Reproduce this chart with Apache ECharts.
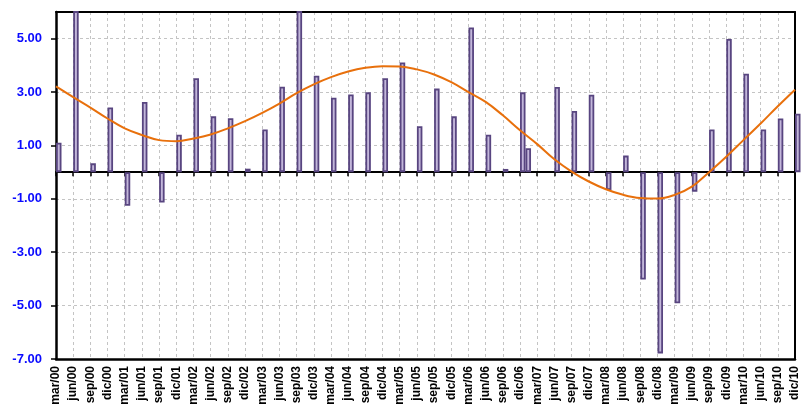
<!DOCTYPE html>
<html>
<head>
<meta charset="utf-8">
<script src="https://cdn.jsdelivr.net/npm/echarts@6/dist/echarts.min.js"></script>
<style>
html,body{margin:0;padding:0;background:#fff;}
#chart{width:801px;height:411px;}
</style>
</head>
<body>
<div id="chart"></div>
<script>
var categories = [
  'mar/00','jun/00','sep/00','dic/00','mar/01','jun/01','sep/01','dic/01',
  'mar/02','jun/02','sep/02','dic/02','mar/03','jun/03','sep/03','dic/03',
  'mar/04','jun/04','sep/04','dic/04','mar/05','jun/05','sep/05','dic/05',
  'mar/06','jun/06','sep/06','dic/06','mar/07','jun/07','sep/07','dic/07',
  'mar/08','jun/08','sep/08','dic/08','mar/09','jun/09','sep/09','dic/09',
  'mar/10','jun/10','sep/10','dic/10'
];
var barsMain = [
  1.10, 6.30, 0.33, 2.42, -1.26, 2.63, -1.14, 1.40,
  3.52, 2.09, 2.02, 0.13, 1.60, 3.20, 6.30, 3.61,
  2.79, 2.91, 2.99, 3.52, 4.11, 1.72, 3.13, 2.09,
  5.42, 1.40, 0.12, 2.99, null, 3.19, 2.29, 2.90,
  -0.67, 0.62, -4.02, -6.79, -4.91, -0.73, 1.60, 4.99,
  3.69, 1.60, 2.01, 2.19
];
var barsSecond = [
  null, null, null, null, null, null, null, null,
  null, null, null, null, null, null, null, null,
  null, null, null, null, null, null, null, null,
  null, null, null, 0.90, null, null, null, null,
  null, null, null, null, null, null, null, null,
  null, null, null, null
];
var trendLine = [
  3.21, 2.81, 2.42, 2.01, 1.64, 1.39, 1.20, 1.16,
  1.26, 1.41, 1.64, 1.91, 2.22, 2.57, 2.96, 3.29,
  3.56, 3.77, 3.91, 3.97, 3.96, 3.85, 3.66, 3.37,
  3.00, 2.63, 2.13, 1.57, 1.05, 0.48, 0.02, -0.35,
  -0.64, -0.85, -0.97, -0.99, -0.85, -0.54, 0.00, 0.58,
  1.20, 1.82, 2.47, 3.09
];
var yMin = -7, yMax = 6, yStep = 2;

var chart = echarts.init(document.getElementById('chart'), null, {renderer: 'canvas'});
var barStyle = {color: '#c3b7da', borderColor: '#584580', borderWidth: 1.8};
var fontFam = 'Liberation Sans, Arial, sans-serif';
var option = {
  animation: false,
  backgroundColor: '#ffffff',
  grid: {left: 56, right: 3, top: 12, bottom: 52, show: false},
  xAxis: [
    {
      type: 'category', data: categories, boundaryGap: false, position: 'bottom',
      axisLine: {show: true, onZero: false, lineStyle: {color: '#000', width: 2.5}},
      axisTick: {show: false},
      axisLabel: {interval: 0, rotate: 90, margin: 7, color: '#000', fontFamily: fontFam, fontWeight: 'bold', fontSize: 12},
      splitLine: {show: true, interval: 0, lineStyle: {color: '#c4c4c4', type: [3, 3], width: 1}}
    },
    {
      type: 'category', data: categories, boundaryGap: false, position: 'top',
      axisLine: {show: true, onZero: true, lineStyle: {color: '#000', width: 2}},
      axisTick: {show: true, inside: true, length: 4, interval: 0, lineStyle: {color: '#000', width: 1.5}},
      axisLabel: {show: false},
      splitLine: {show: false}
    },
    {
      type: 'category', data: categories, boundaryGap: false, position: 'top',
      axisLine: {show: true, onZero: false, lineStyle: {color: '#000', width: 2}},
      axisTick: {show: false}, axisLabel: {show: false}, splitLine: {show: false}
    }
  ],
  yAxis: [
    {
      type: 'value', min: yMin, max: yMax, interval: yStep, position: 'left',
      axisLine: {show: true, onZero: false, lineStyle: {color: '#000', width: 2.5}},
      axisTick: {show: true, length: 5, lineStyle: {color: '#000', width: 1.5}},
      axisLabel: {
        margin: 14, color: '#0a0aff', fontFamily: fontFam, fontWeight: 'bold', fontSize: 13,
        showMaxLabel: false,
        formatter: function (v) { return v === yMax ? '' : v.toFixed(2); }
      },
      splitLine: {show: true, lineStyle: {color: '#c4c4c4', type: [3, 3], width: 1}}
    },
    {
      type: 'value', min: yMin, max: yMax, interval: yStep, position: 'right',
      axisLine: {show: true, onZero: false, lineStyle: {color: '#000', width: 2}},
      axisTick: {show: false}, axisLabel: {show: false}, splitLine: {show: false}
    }
  ],
  series: [
    {type: 'bar', name: 'pad', xAxisIndex: 0, yAxisIndex: 0, data: categories.map(function(){return null;}), barWidth: 11, barGap: '0%', itemStyle: {color: 'transparent'}, silent: true},
    {type: 'bar', name: 'A', xAxisIndex: 0, yAxisIndex: 0, data: barsMain, barWidth: 5.5, barGap: '0%', itemStyle: barStyle, clip: true},
    {type: 'bar', name: 'B', xAxisIndex: 0, yAxisIndex: 0, data: barsSecond, barWidth: 5.5, barGap: '0%', itemStyle: barStyle, clip: true},
    {type: 'line', name: 'trend', xAxisIndex: 0, yAxisIndex: 0, data: trendLine, smooth: 0.4, showSymbol: false, symbol: 'none',
      lineStyle: {color: '#e8700c', width: 2}, z: 5}
  ]
};
chart.setOption(option);
</script>
</body>
</html>
